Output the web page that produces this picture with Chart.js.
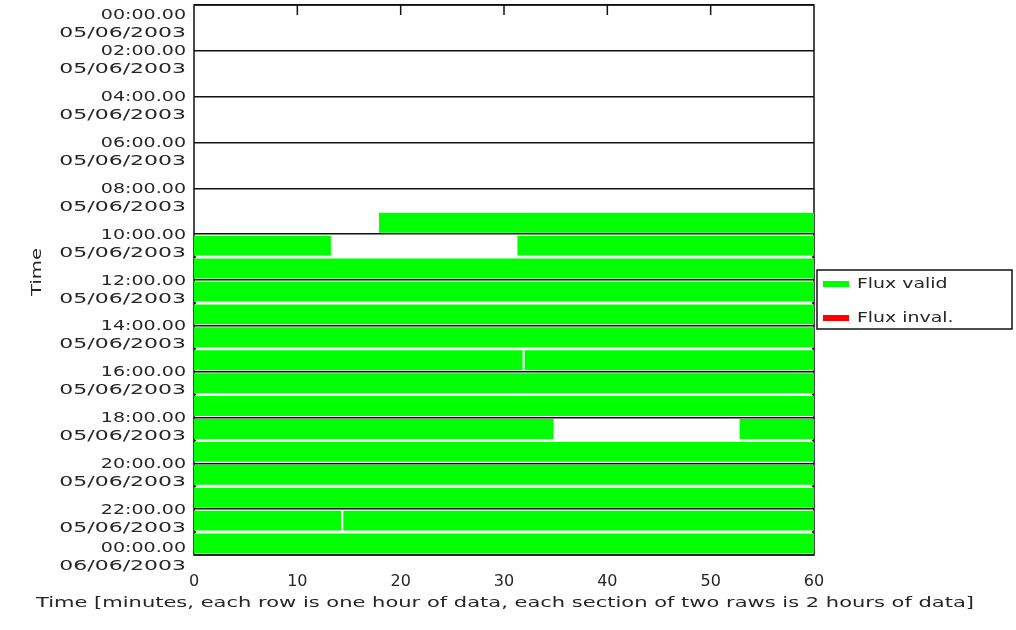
<!DOCTYPE html>
<html>
<head>
<meta charset="utf-8">
<script src="https://cdn.jsdelivr.net/npm/chart.js@4.4.1/dist/chart.umd.min.js"></script>
<style>
html,body{margin:0;padding:0;background:#fff;}
#wrap{width:1016px;height:630px;}
</style>
</head>
<body>
<div id="wrap"><canvas id="c" width="1016" height="630"></canvas></div>
<script>
// ---- data (hours of day, minutes within the hour) ----
const rowHours    = [9, 10, 11, 12, 13, 14, 15, 16, 17, 18, 19, 20, 21, 22, 23];
const validStart1 = [17.9, 0, 0, 0, 0, 0, 0, 0, 0, 0, 0, 0, 0, 0, 0];
const validEnd1   = [60, 13.25, 60, 60, 60, 60, 31.8, 60, 60, 34.8, 60, 60, 60, 14.25, 60];
const gapRows     = [10, 15, 18, 22];
const validStart2 = [31.3, 32.0, 52.8, 14.45];
const validEnd2   = [60, 60, 60, 60];
const invalidRows = [];
const invalidStart = [];
const invalidEnd = [];
const sectionHours = [0, 2, 4, 6, 8, 10, 12, 14, 16, 18, 20, 22, 24];
const timeLabels = ['00:00.00','02:00.00','04:00.00','06:00.00','08:00.00','10:00.00','12:00.00','14:00.00','16:00.00','18:00.00','20:00.00','22:00.00','00:00.00'];
const dateLabels = ['05/06/2003','05/06/2003','05/06/2003','05/06/2003','05/06/2003','05/06/2003','05/06/2003','05/06/2003','05/06/2003','05/06/2003','05/06/2003','05/06/2003','06/06/2003'];
const xTickValues = [0, 10, 20, 30, 40, 50, 60];
const xTitle = 'Time [minutes, each row is one hour of data, each section of two raws is 2 hours of data]';
const yTitle = 'Time';

const GREEN = '#00ff00', RED = '#ff0000';
const FONT = '"DejaVu Sans", sans-serif';
const TEXT = '#262626';

const seg1 = rowHours.map((h, i) => ({ y: h + 0.5, x: [validStart1[i], validEnd1[i]] }));
const seg2 = gapRows.map((h, i) => ({ y: h + 0.5, x: [validStart2[i], validEnd2[i]] }));
const inv  = invalidRows.map((h, i) => ({ y: h + 0.5, x: [invalidStart[i], invalidEnd[i]] }));

function sText(ctx, text, x, y, align, sx) {
  ctx.save();
  ctx.translate(x, y);
  ctx.scale(sx, 1);
  ctx.textAlign = align;
  ctx.textBaseline = 'middle';
  ctx.fillText(text, 0, 0);
  ctx.restore();
}

const framePlugin = {
  id: 'frame',
  beforeDatasetsDraw(chart) {
    const { ctx, chartArea: a, scales } = chart;
    ctx.save();
    ctx.strokeStyle = '#111';
    ctx.lineWidth = 1.5;
    ctx.strokeRect(a.left, a.top, a.right - a.left, a.bottom - a.top);
    xTickValues.forEach(v => {
      if (v === 0 || v === 60) return;
      const px = scales.x.getPixelForValue(v);
      ctx.beginPath();
      ctx.moveTo(px, a.top);
      ctx.lineTo(px, a.top + 10);
      ctx.stroke();
    });
    ctx.restore();
  },
  afterDatasetsDraw(chart) {
    const { ctx, chartArea: a, scales } = chart;
    ctx.save();
    ctx.strokeStyle = '#111';
    ctx.lineWidth = 1.5;
    for (let h = 11; h < 24; h += 2) {
      const py = scales.y.getPixelForValue(h);
      ctx.beginPath();
      ctx.moveTo(a.left, py); ctx.lineTo(a.left + 2, py);
      ctx.moveTo(a.right, py); ctx.lineTo(a.right - 2, py);
      ctx.stroke();
    }
    ctx.restore();
  },
  afterDraw(chart) {
    const { ctx, chartArea: a, scales } = chart;
    ctx.save();
    ctx.fillStyle = TEXT;
    ctx.font = '14px ' + FONT;
    // y labels
    sectionHours.forEach((h, i) => {
      const py = scales.y.getPixelForValue(h);
      let ty = py + 1;
      if (i === 0) ty = py + 10;
      if (i === sectionHours.length - 1) ty = py - 7;
      sText(ctx, timeLabels[i], a.left - 8, ty, 'right', 1.36);
      sText(ctx, dateLabels[i], a.left - 8, ty + 18, 'right', 1.57);
    });
    // y title
    ctx.save();
    ctx.translate(37, 272);
    ctx.rotate(-Math.PI / 2);
    ctx.scale(1.4, 1);
    ctx.textAlign = 'center';
    ctx.textBaseline = 'middle';
    ctx.fillText(yTitle, 0, 0);
    ctx.restore();
    // x title
    const w = ctx.measureText(xTitle).width;
    sText(ctx, xTitle, 505, 603, 'center', 938 / w);
    // legend
    const lx = a.right + 3, ly = 270, lw = 195, lh = 59;
    ctx.strokeStyle = '#111';
    ctx.lineWidth = 1.5;
    ctx.strokeRect(lx, ly, lw, lh);
    const items = chart.data.datasets.filter(d => !d.hideInLegend);
    items.forEach((d, i) => {
      const cy = ly + 14 + i * 34;
      ctx.fillStyle = d.backgroundColor;
      ctx.fillRect(lx + 6, cy - 3, 26, 6);
      ctx.fillStyle = TEXT;
      sText(ctx, d.label, lx + 40, cy, 'left', 1.35);
    });
    ctx.restore();
  }
};

new Chart(document.getElementById('c'), {
  type: 'bar',
  data: {
    datasets: [
      { label: 'Flux valid', data: seg1, backgroundColor: GREEN, grouped: false },
      { label: 'Flux valid', data: seg2, backgroundColor: GREEN, grouped: false, hideInLegend: true },
      { label: 'Flux inval.', data: inv, backgroundColor: RED, grouped: false }
    ]
  },
  options: {
    indexAxis: 'y',
    responsive: false,
    animation: false,
    events: [],
    layout: { padding: { left: 194, right: 202, top: 5, bottom: 0 } },
    datasets: { bar: { categoryPercentage: 1, barPercentage: 0.87, borderWidth: 0 } },
    plugins: { legend: { display: false }, tooltip: { enabled: false } },
    scales: {
      x: {
        type: 'linear', min: 0, max: 60,
        grid: { display: false, drawTicks: false },
        border: { display: false },
        ticks: {
          stepSize: 10, padding: 17, color: TEXT,
          font: { family: FONT, size: 16 },
          callback: v => String(v)
        },
        afterFit(s) { s.height = 75; }
      },
      y: {
        type: 'linear', min: 0, max: 24, reverse: true, z: 1, offset: false,
        grid: { color: '#111', lineWidth: 1.5, drawTicks: false, offset: false },
        border: { display: false },
        ticks: { stepSize: 2, display: false },
        afterFit(s) { s.width = 0; }
      }
    }
  },
  plugins: [framePlugin]
});
</script>
</body>
</html>
